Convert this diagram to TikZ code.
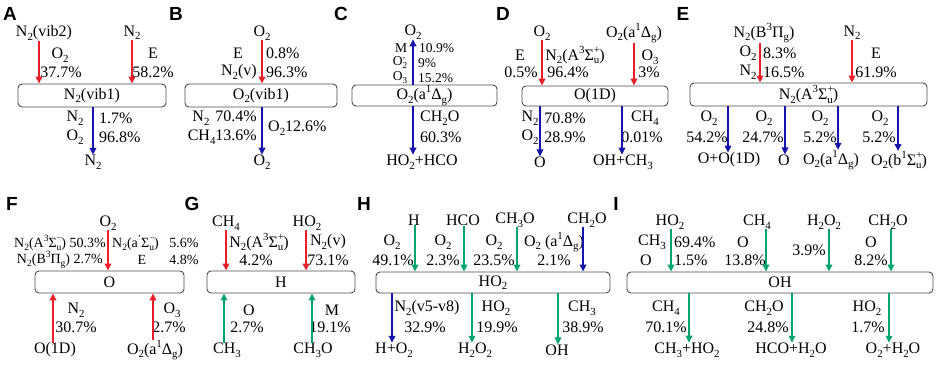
\documentclass[tikz,border=0pt]{standalone}
\usepackage{fontspec}
\usepackage{graphicx}
\setmainfont{Liberation Serif}
\newfontfamily\plfont{Liberation Sans}
\usetikzlibrary{arrows.meta}
\definecolor{cR}{RGB}{232,30,40}
\definecolor{cB}{RGB}{20,20,170}
\definecolor{cG}{RGB}{0,165,110}
\newcommand{\xsb}[1]{\raisebox{-0.22em}{\scalebox{0.68}{#1}}}
\newcommand{\xsp}[1]{\raisebox{0.42em}{\scalebox{0.68}{#1}}}
\newcommand{\xss}[2]{\makebox[0pt][l]{\xsp{#1}}\xsb{#2}}
\begin{document}
\begin{tikzpicture}[x=1pt,y=-1pt,
  lb/.style={inner sep=0pt, font=\fontsize{16}{18}\selectfont},
  sm/.style={inner sep=0pt, font=\fontsize{14}{16}\selectfont},
  sc/.style={inner sep=0pt, font=\fontsize{13.5}{15}\selectfont},
  pl/.style={inner sep=0pt, font=\plfont\bfseries\fontsize{19}{19}\selectfont},
  bx/.style={draw=black!70, line width=0.9pt, rounded corners=4pt, inner sep=0pt, font=\fontsize{16}{18}\selectfont},
  ar/.style={line width=1.8pt, -{Triangle[length=7pt,width=6.5pt]}},
  ra/.style={ar, draw=cR}, ba/.style={ar, draw=cB}, ga/.style={ar, draw=cG}]
\useasboundingbox (0,0) rectangle (941,367);
% ---------------- A
\node[pl] (LA) at (10,13.5) {A};
\node[bx, minimum width=148, minimum height=23] (bA) at (92,95.5) {N\xsb{2}(vib1)};
\node[lb] (a1) at (44,33) {N\xsb{2}(vib2)};
\node[lb] (a2) at (132,33) {N\xsb{2}};
\node[lb] (a3) at (60,55) {O\xsb{2}};
\node[lb] (a4) at (61,72) {37.7\%};
\node[lb] (a5) at (153,53) {E};
\node[lb] (a6) at (153,72) {58.2\%};
\node[lb] (a7) at (75,118) {N\xsb{2}};
\node[lb,anchor=west] (a8) at (99,118) {1.7\%};
\node[lb] (a9) at (75,137) {O\xsb{2}};
\node[lb,anchor=west] (a10) at (99,137) {96.8\%};
\node[lb] (a11) at (93,162) {N\xsb{2}};
\draw[ra] ([xshift=-5]a1.south) -- ([xshift=-5]a1.south |- bA.north);
\draw[ra] (a2.south) -- (a2.south |- bA.north);
\draw[ba] (a11.north |- bA.south) -- (a11.north);
% ---------------- B
\node[pl] (LB) at (176,13.5) {B};
\node[bx, minimum width=152, minimum height=23] (bB) at (261,95.5) {O\xsb{2}(vib1)};
\node[lb] (b1) at (262,33) {O\xsb{2}};
\node[lb] (b2) at (238,53) {E};
\node[lb,anchor=west] (b3) at (266,53) {0.8\%};
\node[lb,anchor=east] (b4) at (257,72) {N\xsb{2}(v)};
\node[lb,anchor=west] (b5) at (266,72) {96.3\%};
\node[lb,anchor=east] (b6) at (257,118) {N\xsb{2}\hspace{6pt}70.4\%};
\node[lb,anchor=east] (b7) at (257,137) {CH\xsb{4}13.6\%};
\node[lb,anchor=west] (b8) at (268,128) {O\xsb{2}12.6\%};
\node[lb] (b9) at (262,162) {O\xsb{2}};
\draw[ra] (b1.south) -- (b1.south |- bB.north);
\draw[ba] (b9.north |- bB.south) -- (b9.north);
% ---------------- C
\node[pl] (LC) at (341,13.5) {C};
\node[bx, minimum width=145, minimum height=21] (bC) at (424.5,95.5) {O\xsb{2}(a\xsp{1}Δ\xsb{g})};
\node[lb] (c1) at (413,32) {O\xsb{2}};
\node[sc] (c2) at (401,48) {M};
\node[sc,anchor=west] (c3) at (419,48) {10.9\%};
\node[sc] (c4) at (400,63) {O\xss{-}{2}};
\node[sc,anchor=west] (c5) at (418,63) {9\%};
\node[sc] (c6) at (400,78) {O\xsb{3}};
\node[sc,anchor=west] (c7) at (418,78) {15.2\%};
\node[lb,anchor=west] (c8) at (420,118) {CH\xsb{2}O};
\node[lb,anchor=west] (c9) at (420,137) {60.3\%};
\node[lb] (c10) at (422,162) {HO\xsb{2}+HCO};
\draw[ba] (c1.south |- bC.north) -- (c1.south);
\draw[ba] ([xshift=-9]c10.north |- bC.south) -- ([xshift=-9]c10.north);
% ---------------- D
\node[pl] (LD) at (503,13.5) {D};
\node[bx, minimum width=146, minimum height=20] (bD) at (595,96) {O(1D)};
\node[lb] (d1) at (542,33) {O\xsb{2}};
\node[lb] (d2) at (520,55) {E};
\node[lb] (d3) at (521,72) {0.5\%};
\node[lb] (d4) at (575,55) {N\xsb{2}(A\xsp{3}Σ\xss{+}{u})};
\node[lb] (d5) at (568,72) {96.4\%};
\node[lb] (d6) at (634,33) {O\xsb{2}(a\xsp{1}Δ\xsb{g})};
\node[lb] (d7) at (650,57) {O\xsb{3}};
\node[lb] (d8) at (649,72) {3\%};
\node[lb] (d9) at (530,118) {N\xsb{2}};
\node[lb] (d10) at (565,118) {70.8\%};
\node[lb] (d11) at (530,137) {O\xsb{2}};
\node[lb] (d12) at (565,137) {28.9\%};
\node[lb] (d13) at (645,118) {CH\xsb{4}};
\node[lb] (d14) at (642,137) {0.01\%};
\node[lb] (d15) at (540,162) {O};
\node[lb] (d16) at (623,162) {OH+CH\xsb{3}};
\draw[ra] (d1.south) -- (d1.south |- bD.north);
\draw[ra] (d6.south) -- (d6.south |- bD.north);
\draw[ba] (d15.north |- bD.south) -- (d15.north);
\draw[ba] ([xshift=-1]d16.north |- bD.south) -- ([xshift=-1]d16.north);
% ---------------- E
\node[pl] (LE) at (683,13.5) {E};
\node[bx, minimum width=237, minimum height=23] (bE) at (808.5,94.5) {N\xsb{2}(A\xsp{3}Σ\xss{+}{u})};
\node[lb] (e1) at (764,33) {N\xsb{2}(B\xsp{3}Π\xsb{g})};
\node[lb] (e2) at (748,53) {O\xsb{2}};
\node[lb,anchor=west] (e3) at (763,53) {8.3\%};
\node[lb] (e4) at (748,72) {N\xsb{2}};
\node[lb,anchor=west] (e5) at (763,72) {16.5\%};
\node[lb] (e6) at (852,33) {N\xsb{2}};
\node[lb] (e7) at (876,53) {E};
\node[lb] (e8) at (876,72) {61.9\%};
\node[lb] (e9) at (709,118) {O\xsb{2}};
\node[lb] (e10) at (707,137) {54.2\%};
\node[lb] (e11) at (764,118) {O\xsb{2}};
\node[lb] (e12) at (763,137) {24.7\%};
\node[lb] (e13) at (820,118) {O\xsb{2}};
\node[lb] (e14) at (820,137) {5.2\%};
\node[lb] (e15) at (880,118) {O\xsb{2}};
\node[lb] (e16) at (879,137) {5.2\%};
\node[lb] (e17) at (729,160) {O+O(1D)};
\node[lb] (e18) at (784,160) {O};
\node[lb] (e19) at (831,160) {O\xsb{2}(a\xsp{1}Δ\xsb{g})};
\node[lb] (e20) at (899,160) {O\xsb{2}(b\xsp{1}Σ\xss{+}{u})};
\draw[ra] ([xshift=-4]e1.south) -- ([xshift=-4]e1.south |- bE.north);
\draw[ra] (e6.south) -- (e6.south |- bE.north);
\draw[ba] ([xshift=-1]e17.north |- bE.south) -- ([xshift=-1]e17.north);
\draw[ba] ([xshift=1]e18.north |- bE.south) -- ([xshift=1]e18.north);
\draw[ba] ([xshift=7]e19.north |- bE.south) -- ([xshift=7]e19.north);
\draw[ba] ([xshift=-1]e20.north |- bE.south) -- ([xshift=-1]e20.north);
% ---------------- F
\node[pl] (LF) at (12,204) {F};
\node[bx, minimum width=149, minimum height=22] (bF) at (109.5,282) {O};
\node[lb] (f1) at (108,223) {O\xsb{2}};
\node[sm,anchor=east] (f2) at (106,243) {N\xsb{2}(A\xsp{3}Σ\xss{−}{u}) 50.3\%};
\node[sm,anchor=west] (f3) at (112,243) {N\xsb{2}(a\xsp{'}Σ\xss{−}{u})};
\node[sm] (f4) at (184,243) {5.6\%};
\node[sm,anchor=east] (f5) at (103,260) {N\xsb{2}(B\xsp{3}Π\xsb{g}) 2.7\%};
\node[sm] (f6) at (142,260) {E};
\node[sm] (f7) at (184,260) {4.8\%};
\node[lb] (f8) at (76,310) {N\xsb{2}};
\node[lb] (f9) at (76,327) {30.7\%};
\node[lb] (f10) at (172,310) {O\xsb{3}};
\node[lb] (f11) at (169,327) {2.7\%};
\node[lb] (f12) at (55,350) {O(1D)};
\node[lb] (f13) at (155,350) {O\xsb{2}(a\xsp{1}Δ\xsb{g})};
\draw[ra] (f1.south) -- (f1.south |- bF.north);
\draw[ra] ([xshift=-2]f12.north) -- ([xshift=-2]f12.north |- bF.south);
\draw[ra] ([xshift=-2]f13.north) -- ([xshift=-2]f13.north |- bF.south);
% ---------------- G
\node[pl] (LG) at (192,204) {G};
\node[bx, minimum width=148, minimum height=22] (bG) at (281,282) {H};
\node[lb] (g1) at (226,223) {CH\xsb{4}};
\node[lb] (g2) at (259,242) {N\xsb{2}(A\xsp{3}Σ\xss{+}{u})};
\node[lb] (g3) at (256,260) {4.2\%};
\node[lb] (g4) at (307,223) {HO\xsb{2}};
\node[lb] (g5) at (328,242) {N\xsb{2}(v)};
\node[lb] (g6) at (328,260) {73.1\%};
\node[lb] (g7) at (249,310) {O};
\node[lb] (g8) at (247,327) {2.7\%};
\node[lb] (g9) at (332,310) {M};
\node[lb] (g10) at (330,327) {19.1\%};
\node[lb] (g11) at (227,350) {CH\xsb{3}};
\node[lb] (g12) at (313,350) {CH\xsb{3}O};
\draw[ra] (g1.south) -- (g1.south |- bG.north);
\draw[ra] ([xshift=-1]g4.south) -- ([xshift=-1]g4.south |- bG.north);
\draw[ga] ([xshift=-3]g11.north) -- ([xshift=-3]g11.north |- bG.south);
\draw[ga] ([xshift=-1]g12.north) -- ([xshift=-1]g12.north |- bG.south);
% ---------------- H
\node[pl] (LH) at (364,204) {H};
\node[bx, minimum width=234, minimum height=21] (bH) at (493,282.5) {HO\xsb{2}};
\node[lb] (h1) at (414,220) {H};
\node[lb] (h2) at (463,220) {HCO};
\node[lb] (h3) at (515,220) {CH\xsb{3}O};
\node[lb] (h4) at (587,220) {CH\xsb{2}O};
\node[lb] (h5) at (392,242) {O\xsb{2}};
\node[lb] (h6) at (393,260) {49.1\%};
\node[lb] (h7) at (443,242) {O\xsb{2}};
\node[lb] (h8) at (443,260) {2.3\%};
\node[lb] (h9) at (494,242) {O\xsb{2}};
\node[lb] (h10) at (494,260) {23.5\%};
\node[lb] (h11) at (554,242) {O\xsb{2} (a\xsp{1}Δ\xsb{g})};
\node[lb] (h12) at (554,260) {2.1\%};
\node[lb] (h13) at (427,308) {N\xsb{2}(v5-v8)};
\node[lb] (h14) at (425,327) {32.9\%};
\node[lb] (h15) at (496,308) {HO\xsb{2}};
\node[lb] (h16) at (497,327) {19.9\%};
\node[lb] (h17) at (582,308) {CH\xsb{3}};
\node[lb] (h18) at (583,327) {38.9\%};
\node[lb] (h19) at (394,350) {H+O\xsb{2}};
\node[lb] (h20) at (475,350) {H\xsb{2}O\xsb{2}};
\node[lb] (h21) at (557,350) {OH};
\draw[ga] ([xshift=1]h1.south) -- ([xshift=1]h1.south |- bH.north);
\draw[ga] ([xshift=1]h2.south) -- ([xshift=1]h2.south |- bH.north);
\draw[ga] ([xshift=2]h3.south) -- ([xshift=2]h3.south |- bH.north);
\draw[ba] ([xshift=-4]h4.south) -- ([xshift=-4]h4.south |- bH.north);
\draw[ba] ([xshift=-2]h19.north |- bH.south) -- ([xshift=-2]h19.north);
\draw[ga] ([xshift=-3]h20.north |- bH.south) -- ([xshift=-3]h20.north);
\draw[ga] ([xshift=1]h21.north |- bH.south) -- ([xshift=1]h21.north);
% ---------------- I
\node[pl] (LI) at (616,204) {I};
\node[bx, minimum width=306, minimum height=21] (bI) at (780,282.5) {OH};
\node[lb] (i1) at (670,222) {HO\xsb{2}};
\node[lb] (i2) at (757,222) {CH\xsb{4}};
\node[lb] (i3) at (824,222) {H\xsb{2}O\xsb{2}};
\node[lb] (i4) at (888,222) {CH\xsb{2}O};
\node[lb] (i5) at (652,242) {CH\xsb{3}};
\node[lb,anchor=west] (i6) at (674,242) {69.4\%};
\node[lb] (i7) at (646,260) {O};
\node[lb,anchor=west] (i8) at (674,260) {1.5\%};
\node[lb] (i9) at (743,242) {O};
\node[lb] (i10) at (745,260) {13.8\%};
\node[lb] (i11) at (809,250) {3.9\%};
\node[lb] (i12) at (871,242) {O};
\node[lb] (i13) at (871,260) {8.2\%};
\node[lb] (i14) at (666,308) {CH\xsb{4}};
\node[lb] (i15) at (666,327) {70.1\%};
\node[lb] (i16) at (764,308) {CH\xsb{2}O};
\node[lb] (i17) at (768,327) {24.8\%};
\node[lb] (i18) at (867,308) {HO\xsb{2}};
\node[lb] (i19) at (868,327) {1.7\%};
\node[lb] (i20) at (687,350) {CH\xsb{3}+HO\xsb{2}};
\node[lb] (i21) at (791,350) {HCO+H\xsb{2}O};
\node[lb] (i22) at (893,350) {O\xsb{2}+H\xsb{2}O};
\draw[ga] ([xshift=1]i1.south) -- ([xshift=1]i1.south |- bI.north);
\draw[ga] ([xshift=9]i2.south) -- ([xshift=9]i2.south |- bI.north);
\draw[ga] ([xshift=5]i3.south) -- ([xshift=5]i3.south |- bI.north);
\draw[ga] ([xshift=3]i4.south) -- ([xshift=3]i4.south |- bI.north);
\draw[ga] ([xshift=2]i20.north |- bI.south) -- ([xshift=2]i20.north);
\draw[ga] ([xshift=1]i21.north |- bI.south) -- ([xshift=1]i21.north);
\draw[ga] ([xshift=-4]i22.north |- bI.south) -- ([xshift=-4]i22.north);
\end{tikzpicture}
\end{document}
